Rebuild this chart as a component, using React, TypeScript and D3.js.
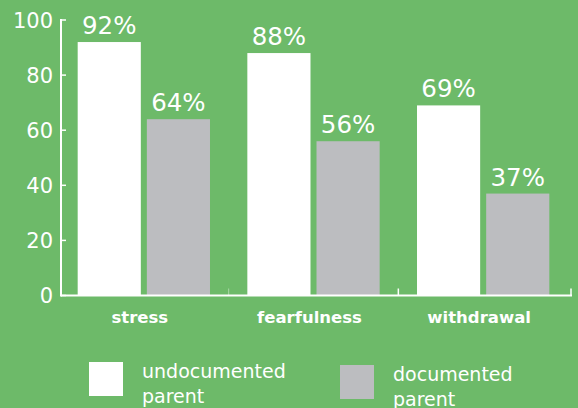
import * as React from 'react'
import * as d3 from 'd3'

const categories = ['stress', 'fearfulness', 'withdrawal']
const seriesNames = ['undocumented parent', 'documented parent']
const undocumented = [92, 88, 69]
const documented = [64, 56, 37]
const yTicks = [0, 20, 40, 60, 80, 100]

const width = 578
const height = 408
const bg = '#6dba69'
const colors = ['#ffffff', '#bcbdc0']
const font = '"DejaVu Sans", sans-serif'

const App: React.FC = () => {
  const margin = { left: 61, right: 8, top: 20, bottom: 113 }
  const x0 = d3.scaleBand<string>()
    .domain(categories)
    .range([59, 568])
    .padding(0)
  const x1 = d3.scaleBand<string>()
    .domain(seriesNames)
    .range([0, x0.bandwidth()])
    .paddingInner(0.087)
    .paddingOuter(0.27)
  const y = d3.scaleLinear()
    .domain([0, 100])
    .range([height - margin.bottom + 0.5, margin.top])

  const values = [undocumented, documented]
  const axisY = y(0)

  return (
    <svg width={width} height={height} style={{ position: 'absolute', left: 0, top: 0 }}
      fontFamily={font}>
      <rect width={width} height={height} fill={bg} />
      {categories.map((c, ci) => (
        <g key={c}>
          {seriesNames.map((s, si) => {
            const v = values[si][ci]
            const bx = (x0(c) ?? 0) + (x1(s) ?? 0)
            return (
              <g key={s}>
                <rect x={bx} y={y(v)} width={x1.bandwidth()} height={axisY - y(v)} fill={colors[si]} />
                <text x={bx + x1.bandwidth() / 2} y={y(v) - 8} textAnchor="middle"
                  fill="#fff" fontSize={24.5}>{v}%</text>
              </g>
            )
          })}
          <text x={(x0(c) ?? 0) + x0.bandwidth() / 2 - 4} y={323}
            textAnchor="middle" fill="#fff" fontSize={16.5} fontWeight="bold">{c}</text>
        </g>
      ))}
      {/* y axis */}
      <line x1={margin.left} x2={margin.left} y1={y(100) - 1} y2={axisY + 1} stroke="#fff" strokeWidth={2} />
      {yTicks.map(t => (
        <g key={t}>
          <line x1={margin.left} x2={margin.left + 5} y1={y(t)} y2={y(t)} stroke="#fff" strokeWidth={1.5} />
          <text x={margin.left - 8} y={y(t)} dy="0.36em" textAnchor="end" fill="#fff" fontSize={21}>{t}</text>
        </g>
      ))}
      {/* x axis */}
      <line x1={margin.left} x2={width - 6} y1={axisY} y2={axisY} stroke="#fff" strokeWidth={2} />
      {categories.map((c, i) => {
        const tx = i === categories.length - 1 ? width - 7 : (x0(c) ?? 0) + x0.bandwidth()
        return (
          <line key={c} x1={tx} x2={tx}
            y1={axisY} y2={axisY - 7} stroke="#fff" strokeWidth={i === 0 ? 0.7 : 1.5} opacity={i === 0 ? 0.6 : 1} />
        )
      })}
      {/* legend */}
      {seriesNames.map((s, i) => {
        const lx = i === 0 ? 89 : 340
        const ly = i === 0 ? 362 : 365
        const words = s.split(' ')
        return (
          <g key={s}>
            <rect x={lx} y={ly} width={34} height={34} fill={colors[i]} />
            <text x={lx + 53} y={ly + 16} fill="#fff" fontSize={19}>
              <tspan x={lx + 53}>{words[0]}</tspan>
              <tspan x={lx + 53} dy={25}>{words[1]}</tspan>
            </text>
          </g>
        )
      })}
    </svg>
  )
}

export default App
